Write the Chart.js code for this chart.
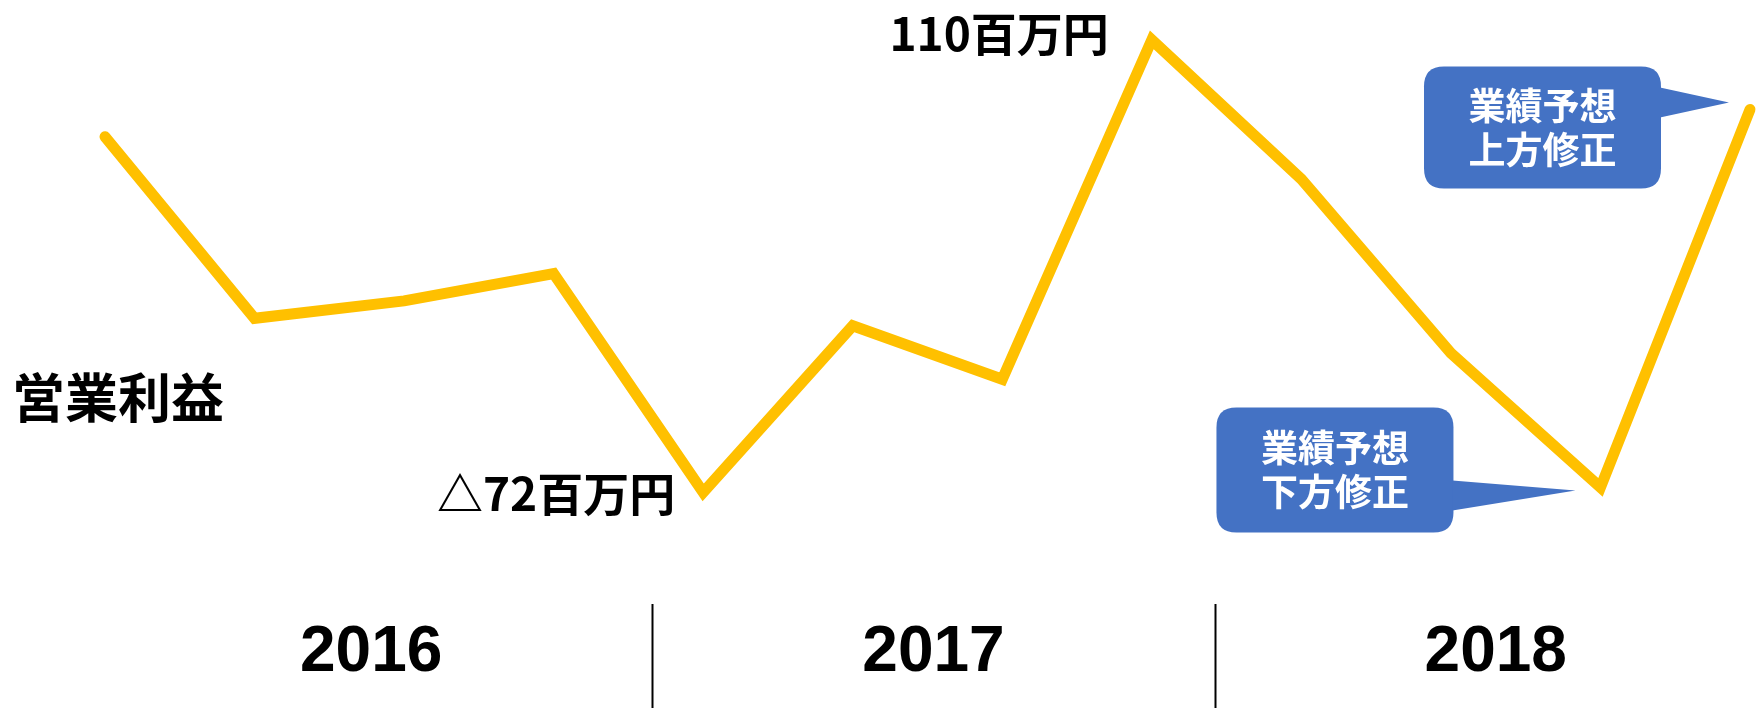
<!DOCTYPE html>
<html lang="ja">
<head>
<meta charset="utf-8">
<title>営業利益</title>
<script src="https://cdn.jsdelivr.net/npm/chart.js@4/dist/chart.umd.min.js"></script>
<style>
    html, body { margin: 0; padding: 0; background: #ffffff; }
    #wrap { position: relative; width: 1761px; height: 708px; }
</style>
</head>
<body>
<div id="wrap"><canvas id="profitChart"></canvas></div>
<script>
// quarterly operating profit (百万円), 2016Q1 .. 2018Q4
const quarters = ['2016Q1', '2016Q2', '2016Q3', '2016Q4',
                  '2017Q1', '2017Q2', '2017Q3', '2017Q4',
                  '2018Q1', '2018Q2', '2018Q3', '2018Q4'];
const profit = [71, -2, 5, 16, -72, -5, -26.5, 110, 54, -16, -70, 82];

// year bands along the bottom (in category-index units)
const years = ['2016', '2017', '2018'];
const yearCenters = [1.78, 5.54, 9.30];
const yearBreaks = [3.66, 7.42];

const LINE_COLOR = '#FFC000';
const BOX_COLOR = '#4472C4';
const JP_FONT = "'Noto Sans CJK JP', 'Noto Sans', sans-serif";
const NUM_FONT = "'Liberation Sans', Arial, sans-serif";

function roundBox(ctx, x, y, w, h, r) {
    ctx.beginPath();
    ctx.moveTo(x + r, y);
    ctx.lineTo(x + w - r, y);
    ctx.quadraticCurveTo(x + w, y, x + w, y + r);
    ctx.lineTo(x + w, y + h - r);
    ctx.quadraticCurveTo(x + w, y + h, x + w - r, y + h);
    ctx.lineTo(x + r, y + h);
    ctx.quadraticCurveTo(x, y + h, x, y + h - r);
    ctx.lineTo(x, y + r);
    ctx.quadraticCurveTo(x, y, x + r, y);
    ctx.closePath();
}

// callout box with a pointer toward a data point
function callout(ctx, pt, box, lines) {
    const x = pt.x + box.dx, y = pt.y + box.dy;
    ctx.fillStyle = BOX_COLOR;
    roundBox(ctx, x, y, box.w, box.h, 20);
    ctx.fill();
    ctx.beginPath();
    ctx.moveTo(x + box.w - 1, y + box.tailTop);
    ctx.lineTo(pt.x + box.tipDx, pt.y + box.tipDy);
    ctx.lineTo(x + box.w - 1, y + box.tailBottom);
    ctx.closePath();
    ctx.fill();
    ctx.fillStyle = '#ffffff';
    ctx.font = 'bold 37px ' + JP_FONT;
    ctx.textAlign = 'center';
    ctx.textBaseline = 'middle';
    ctx.fillText(lines[0], x + box.w / 2, y + box.h / 2 - 22);
    ctx.fillText(lines[1], x + box.w / 2, y + box.h / 2 + 22);
}

const annotations = {
    id: 'annotations',
    afterDatasetsDraw(chart) {
        const ctx = chart.ctx;
        const xs = chart.scales.x;
        const pts = chart.getDatasetMeta(0).data;
        ctx.save();

        // axis title
        ctx.fillStyle = '#000000';
        ctx.font = 'bold 53px ' + JP_FONT;
        ctx.textAlign = 'left';
        ctx.textBaseline = 'middle';
        ctx.fillText('営業利益', 12, 398);

        // value labels at min and max
        ctx.font = 'bold 46px ' + JP_FONT;
        ctx.textAlign = 'right';
        const hi = pts[7], lo = pts[4];
        ctx.fillText('110百万円', hi.x - 43, hi.y - 6);
        ctx.fillText('△72百万円', lo.x - 28, lo.y + 1);

        // year labels and separators
        ctx.font = 'bold 64px ' + NUM_FONT;
        ctx.textAlign = 'center';
        years.forEach((yr, i) => {
            ctx.fillText(yr, xs.getPixelForValue(yearCenters[i]), 653);
        });
        ctx.strokeStyle = '#000000';
        ctx.lineWidth = 2;
        yearBreaks.forEach(b => {
            const px = Math.round(xs.getPixelForValue(b)) + 0.5;
            ctx.beginPath();
            ctx.moveTo(px, 604);
            ctx.lineTo(px, 708);
            ctx.stroke();
        });

        // forecast revision callouts
        callout(ctx, pts[11],
            { dx: -326, dy: -43, w: 237, h: 122, tailTop: 21, tailBottom: 51, tipDx: -21, tipDy: -7 },
            ['業績予想', '上方修正']);
        callout(ctx, pts[10],
            { dx: -384, dy: -80, w: 237, h: 125, tailTop: 73, tailBottom: 103, tipDx: -25, tipDy: 3 },
            ['業績予想', '下方修正']);

        ctx.restore();
    }
};

new Chart(document.getElementById('profitChart').getContext('2d'), {
    type: 'line',
    data: {
        labels: quarters,
        datasets: [{
            label: '営業利益',
            data: profit,
            borderColor: LINE_COLOR,
            borderWidth: 11,
            borderCapStyle: 'round',
            borderJoinStyle: 'miter',
            pointRadius: 0,
            tension: 0,
            fill: false,
            clip: false
        }]
    },
    options: {
        responsive: true,
        maintainAspectRatio: false,
        animation: false,
        layout: {
            autoPadding: false,
            padding: { left: 105, right: 11, top: 15, bottom: 146 }
        },
        plugins: {
            legend: { display: false },
            tooltip: { enabled: false }
        },
        scales: {
            x: { display: false, offset: false },
            y: { display: false, min: -100, max: 120 }
        }
    },
    plugins: [annotations]
});
</script>
</body>
</html>
